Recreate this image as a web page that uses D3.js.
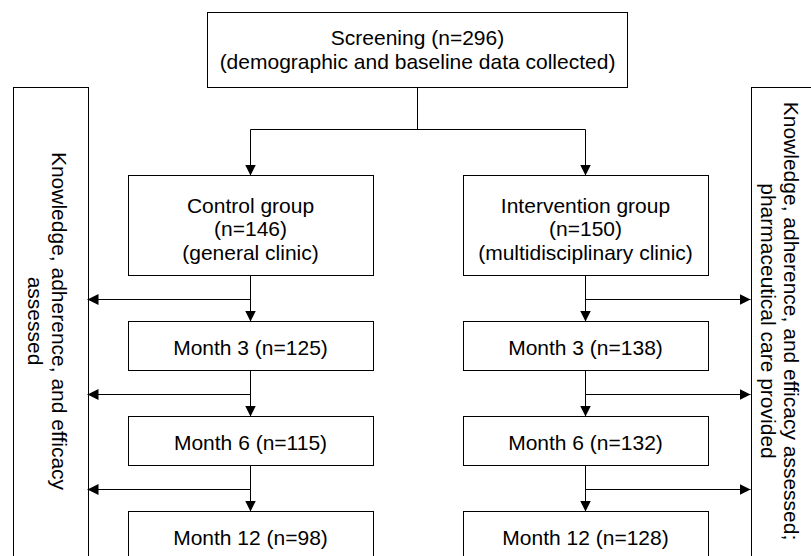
<!DOCTYPE html>
<html>
<head>
<meta charset="utf-8">
<script src="https://cdn.jsdelivr.net/npm/d3@7"></script>
<style>
  html, body { margin: 0; padding: 0; background: #fff; }
  svg { display: block; }
  text { font-family: "Liberation Sans", Arial, sans-serif; fill: #000; }
</style>
</head>
<body>
<svg id="chart" width="811" height="556"></svg>
<script>
// ---------- data ----------
const screeningLines = ["Screening (n=296)", "(demographic and baseline data collected)"];
const groupNames = ["Control group", "Intervention group"];
const groupN = [146, 150];
const groupClinics = ["(general clinic)", "(multidisciplinary clinic)"];
const months = ["Month 3", "Month 6", "Month 12"];
const controlN = [125, 115, 98];
const interventionN = [138, 132, 128];
const leftPanelLines = ["Knowledge, adherence, and efficacy", "assessed"];
const rightPanelLines = ["Knowledge, adherence, and efficacy assessed;", "pharmaceutical care provided"];

// ---------- layout ----------
const W = 811, H = 556;
const svg = d3.select("#chart");
const FS = 21, LH = 23.5;

// column scale: group index -> column centre
const colX = d3.scaleOrdinal().domain([0, 1]).range([250.5, 585.5]);
const boxW = 245;

// row layout: stage index -> top y
const rowHeights = [100, 49, 49, 49];
const gap = 46;
const rowTops = [];
rowHeights.reduce((acc, h, i) => { rowTops.push(acc); return acc + h + gap; }, 175);
const rowY = d3.scaleOrdinal().domain(d3.range(rowHeights.length)).range(rowTops);

const screen = { x: 207, y: 12, w: 420, h: 75 };
const screenCx = screen.x + screen.w / 2;
const splitY = 129.5;

const leftPanel = { x: 12.5, y: 86.5, w: 75, h: 480 };
const rightPanel = { x: 750.5, y: 86.5, w: 75, h: 480 };
const panelTextY = 321;

// arrow marker
const defs = svg.append("defs");
defs.append("marker")
  .attr("id", "arrow")
  .attr("viewBox", "0 0 11 11")
  .attr("refX", 11).attr("refY", 5.5)
  .attr("markerWidth", 11).attr("markerHeight", 11)
  .attr("markerUnits", "userSpaceOnUse")
  .attr("orient", "auto")
  .append("path").attr("d", "M0,0 L11,5.5 L0,11 Z").attr("fill", "#000");

function box(x, y, w, h) {
  svg.append("rect")
    .attr("x", Math.round(x) + 0.5).attr("y", Math.round(y) + 0.5)
    .attr("width", Math.round(w)).attr("height", Math.round(h))
    .attr("fill", "#fff").attr("stroke", "#000").attr("stroke-width", 1);
}
function lines(cx, cy, arr, rotate) {
  const g = svg.append("g").attr("transform", `translate(${cx},${cy})` + (rotate ? ` rotate(${rotate})` : ""));
  const n = arr.length;
  arr.forEach((t, i) => {
    g.append("text")
      .attr("x", 0).attr("y", (i - (n - 1) / 2) * LH)
      .attr("text-anchor", "middle")
      .attr("dominant-baseline", "central")
      .attr("font-size", FS)
      .text(t);
  });
}
function seg(pts, arrow) {
  const p = svg.append("path")
    .attr("d", d3.line()(pts))
    .attr("fill", "none").attr("stroke", "#000").attr("stroke-width", 1);
  if (arrow) p.attr("marker-end", "url(#arrow)");
}

// side panels
box(leftPanel.x, leftPanel.y, leftPanel.w, leftPanel.h);
box(rightPanel.x, rightPanel.y, rightPanel.w, rightPanel.h);
lines(47.5, panelTextY, leftPanelLines, 90);
lines(780, panelTextY, rightPanelLines, 90);

// screening
box(screen.x, screen.y, screen.w, screen.h);
lines(screenCx + 0.5, screen.y + screen.h / 2, screeningLines);

// split connector
seg([[screenCx + 0.5, screen.y + screen.h + 0.5], [screenCx + 0.5, splitY]]);
seg([[colX(0), splitY], [colX(1), splitY]]);
[0, 1].forEach(g => seg([[colX(g), splitY], [colX(g), rowY(0) + 0.5]], true));

// columns
const nByGroup = [controlN, interventionN];
[0, 1].forEach(g => {
  const cx = colX(g);
  box(cx - boxW / 2, rowY(0), boxW, rowHeights[0]);
  lines(cx, rowY(0) + rowHeights[0] / 2 + 3.5, [groupNames[g], `(n=${groupN[g]})`, groupClinics[g]]);
  months.forEach((m, i) => {
    const r = i + 1;
    box(cx - boxW / 2, rowY(r), boxW, rowHeights[r]);
    lines(cx, rowY(r) + rowHeights[r] / 2 + 1.5, [`${m} (n=${nByGroup[g][i]})`]);
    const prevBottom = rowY(r - 1) + rowHeights[r - 1] + 0.5;
    const ay = Math.round(prevBottom + 23) + 0.5;
    seg([[cx, prevBottom], [cx, rowY(r) + 0.5]], true);
    if (g === 0) seg([[cx, ay], [leftPanel.x + leftPanel.w, ay]], true);
    else seg([[cx, ay], [rightPanel.x, ay]], true);
  });
});
</script>
</body>
</html>
